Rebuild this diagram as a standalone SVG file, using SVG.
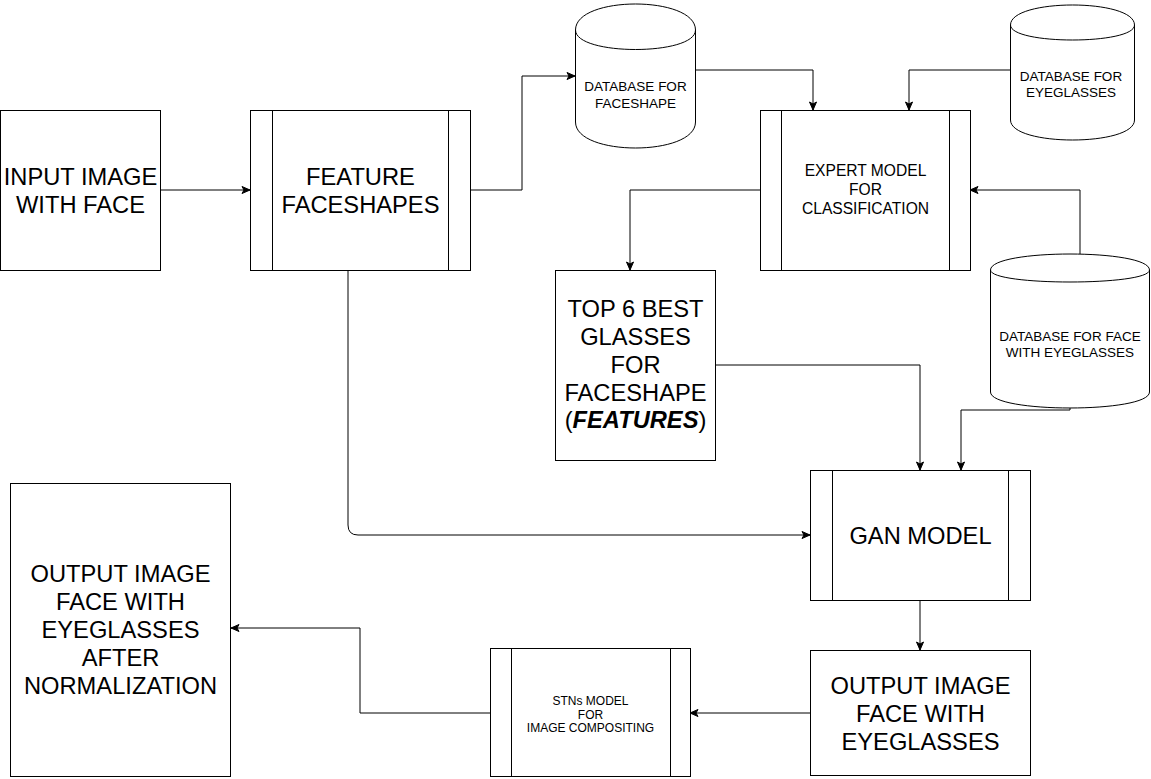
<svg xmlns="http://www.w3.org/2000/svg" width="1151" height="779" viewBox="0 0 1151 779">
<style>
.box{fill:#fff;stroke:#000;stroke-width:1}
.in{stroke:#000;stroke-width:1;fill:none}
.t{font-family:"Liberation Sans",Arial,sans-serif;fill:#000;text-anchor:middle}
.big{font-size:23.7px}
.mid{font-size:15.6px}
.sm{font-size:13.5px}
.xs{font-size:12px}
.c{fill:none;stroke:#000;stroke-width:1;marker-end:url(#ar)}
</style>
<defs>
<marker id="ar" markerUnits="userSpaceOnUse" markerWidth="10" markerHeight="10" refX="9" refY="5" orient="auto">
<path d="M1,1.5 L9,5 L1,8.5 L3,5 Z" fill="#000" stroke="#000" stroke-width="1"/>
</marker>
</defs>
<rect width="1151" height="779" fill="#fff"/>

<g id="connectors">
<path class="c" d="M160,190 L250,190"/>
<path class="c" d="M470,190 L522,190 L522,76 L575,76"/>
<path class="c" d="M695,70 L813,70 L813,110"/>
<path class="c" d="M1010,70 L909,70 L909,110"/>
<path class="c" d="M760,190 L630,190 L630,270"/>
<path class="c" d="M1080,254 L1080,190 L970,190"/>
<path class="c" d="M715,365 L920,365 L920,470"/>
<path class="c" d="M1070,408 L1070,410 L961,410 L961,470"/>
<path class="c" d="M348,270 L348,525 Q348,535 358,535 L810,535"/>
<path class="c" d="M920,600 L920,650"/>
<path class="c" d="M810,713 L690,713"/>
<path class="c" d="M490,713 L360,713 L360,628 L231,628"/>
</g>

<g id="input-image">
<rect class="box" x="0.5" y="110.5" width="160" height="160"/>
<text class="t big" x="80.5" y="185">INPUT IMAGE</text>
<text class="t big" x="80.5" y="212.7">WITH FACE</text>
</g>

<g id="feature-faceshapes">
<rect class="box" x="250.5" y="110.5" width="220" height="160"/>
<path class="in" d="M272.5,110.5 V270.5 M448.5,110.5 V270.5"/>
<text class="t big" x="360.5" y="185">FEATURE</text>
<text class="t big" x="360.5" y="212.7">FACESHAPES</text>
</g>

<g id="db-faceshape">
<path class="box" d="M575.5,30 C575.5,-4.67 695.5,-4.67 695.5,30 L695.5,122 C695.5,156.67 575.5,156.67 575.5,122 Z"/>
<path class="in" d="M575.5,30 C575.5,56 695.5,56 695.5,30"/>
<text class="t sm" x="635.5" y="91">DATABASE FOR</text>
<text class="t sm" x="635.5" y="107.5">FACESHAPE</text>
</g>

<g id="db-eyeglasses">
<path class="box" d="M1010.5,25 C1010.5,-1.67 1134.5,-1.67 1134.5,25 L1134.5,120 C1134.5,146.67 1010.5,146.67 1010.5,120 Z"/>
<path class="in" d="M1010.5,25 C1010.5,45 1134.5,45 1134.5,25"/>
<text class="t sm" x="1071" y="81">DATABASE FOR</text>
<text class="t sm" x="1071" y="97">EYEGLASSES</text>
</g>

<g id="expert-model">
<rect class="box" x="760.5" y="110.5" width="210" height="160"/>
<path class="in" d="M781.5,110.5 V270.5 M949.5,110.5 V270.5"/>
<text class="t mid" x="865.5" y="175.5">EXPERT MODEL</text>
<text class="t mid" x="865.5" y="194.5">FOR</text>
<text class="t mid" x="865.5" y="213.5">CLASSIFICATION</text>
</g>

<g id="db-face-eyeglasses">
<path class="box" d="M990.5,270 C990.5,248.67 1149.5,248.67 1149.5,270 L1149.5,392 C1149.5,413.33 990.5,413.33 990.5,392 Z"/>
<path class="in" d="M990.5,270 C990.5,286 1149.5,286 1149.5,270"/>
<text class="t sm" x="1070" y="341">DATABASE FOR FACE</text>
<text class="t sm" x="1070" y="357">WITH EYEGLASSES</text>
</g>

<g id="top6">
<rect class="box" x="555.5" y="270.5" width="160" height="190"/>
<text class="t big" x="635.5" y="317">TOP 6 BEST</text>
<text class="t big" x="635.5" y="345">GLASSES</text>
<text class="t big" x="635.5" y="373">FOR</text>
<text class="t big" x="635.5" y="401">FACESHAPE</text>
<text class="t big" x="635.5" y="428">(<tspan font-weight="bold" font-style="italic">FEATURES</tspan>)</text>
</g>

<g id="gan-model">
<rect class="box" x="810.5" y="470.5" width="220" height="130"/>
<path class="in" d="M832.5,470.5 V600.5 M1008.5,470.5 V600.5"/>
<text class="t big" x="920.5" y="543.5">GAN MODEL</text>
</g>

<g id="output-face">
<rect class="box" x="810.5" y="650.5" width="220" height="125"/>
<text class="t big" x="920.5" y="694">OUTPUT IMAGE</text>
<text class="t big" x="920.5" y="722">FACE WITH</text>
<text class="t big" x="920.5" y="750">EYEGLASSES</text>
</g>

<g id="stn-model">
<rect class="box" x="490.5" y="648.5" width="200" height="128"/>
<path class="in" d="M511.5,648.5 V776.5 M670.5,648.5 V776.5"/>
<text class="t xs" x="590.5" y="705">STNs MODEL</text>
<text class="t xs" x="590.5" y="718.5">FOR</text>
<text class="t xs" x="590.5" y="732">IMAGE COMPOSITING</text>
</g>

<g id="output-normalized">
<rect class="box" x="10.5" y="483.5" width="220" height="293"/>
<text class="t big" x="120.5" y="582">OUTPUT IMAGE</text>
<text class="t big" x="120.5" y="610">FACE WITH</text>
<text class="t big" x="120.5" y="638">EYEGLASSES</text>
<text class="t big" x="120.5" y="666">AFTER</text>
<text class="t big" x="120.5" y="694">NORMALIZATION</text>
</g>
</svg>
